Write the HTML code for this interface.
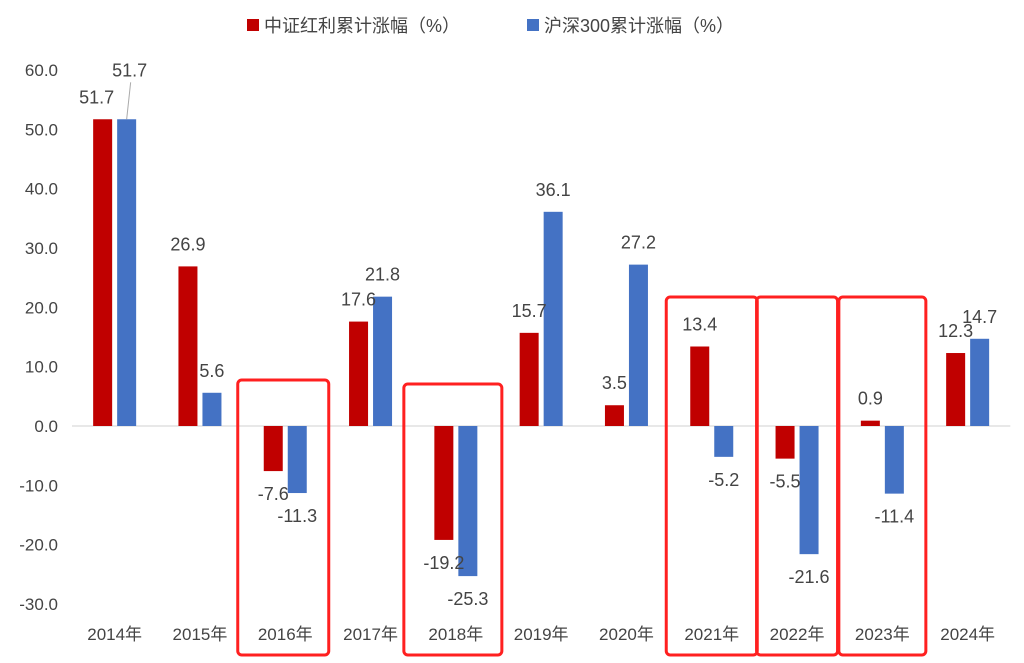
<!DOCTYPE html>
<html><head><meta charset="utf-8"><style>
html,body{margin:0;padding:0;background:#fff;}
svg text{font-family:"Liberation Sans","Noto Sans CJK SC",sans-serif;fill:#444;}
</style></head><body>
<svg id="chart" width="1024" height="658" viewBox="0 0 1024 658" xmlns="http://www.w3.org/2000/svg">
<g id="legend">
<rect x="247" y="19" width="12" height="12" fill="#c00000"/>
<text x="264" y="32" font-size="18">中证红利累计涨幅（%）</text>
<rect x="527" y="19" width="12" height="12" fill="#4472c4"/>
<text x="544" y="32" font-size="18">沪深300累计涨幅（%）</text>
</g>
<g id="yaxis"></g><g id="xaxis"></g><g id="bars"></g><g id="labels"></g><g id="boxes"></g>
</svg>
<script>
const categories=["2014年","2015年","2016年","2017年","2018年","2019年","2020年","2021年","2022年","2023年","2024年"];
const dividendValues=[51.7,26.9,-7.6,17.6,-19.2,15.7,3.5,13.4,-5.5,0.9,12.3];
const csi300Values=[51.7,5.6,-11.3,21.8,-25.3,36.1,27.2,-5.2,-21.6,-11.4,14.7];
const yTicks=[60,50,40,30,20,10,0,-10,-20,-30];
const highlighted=["2016年","2018年","2021年","2022年","2023年"];
const NS="http://www.w3.org/2000/svg";
const y0=426, pxPer=5.933;
function yScale(v){return y0-v*pxPer;}
const left=72, step=85.3;
function xCenter(i){return left+step*(i+0.5);}
function mk(tag,attrs,parent){const e=document.createElementNS(NS,tag);for(const k in attrs)e.setAttribute(k,attrs[k]);parent.appendChild(e);return e;}
const yg=document.getElementById('yaxis'),xg=document.getElementById('xaxis'),bg=document.getElementById('bars'),lg=document.getElementById('labels'),boxg=document.getElementById('boxes');
yTicks.forEach(t=>{
 const e=mk('text',{x:58,y:yScale(t)+6,'text-anchor':'end','font-size':17},yg);
 
 
 e.textContent=t.toFixed(1);
});
const ax=mk('line',{x1:left,x2:left+step*categories.length,y1:y0,y2:y0,stroke:'#d0d0d0','stroke-width':1},xg);


const bw=19;
categories.forEach((c,i)=>{
 const cx=xCenter(i);
 const t=mk('text',{x:cx,y:640,'text-anchor':'middle','font-size':17},xg);
 
 
 t.textContent=c;
 [[dividendValues[i],'#c00000',-12,'dividend'],[csi300Values[i],'#4472c4',12,'csi300']].forEach(([v,col,off,nm],k)=>{
  const bx=cx+off-bw/2, top=Math.min(yScale(v),y0), h=Math.abs(yScale(v)-y0);
  const r=mk('rect',{x:bx,y:top,width:bw,height:h,fill:col},bg);
  
  
  let lx=cx+off, ly=v>=0?yScale(v)-16:yScale(v)+29;
  if(i===0&&k===1){lx=cx+off+3;ly=yScale(v)-43;
   const ln=mk('line',{x1:cx+off,y1:yScale(v),x2:cx+off+4,y2:ly+6,stroke:'#aaa','stroke-width':1},lg);
   
   
  }
  if(i===0&&k===0){lx=cx+off-6;}
  const lt=mk('text',{x:lx,y:ly,'text-anchor':'middle','font-size':18,fill:'#333'},lg);
  
  
  lt.textContent=v.toFixed(1);
 });
});
const boxTops={"2016年":380,"2018年":384,"2021年":297,"2022年":297,"2023年":297};
const boxShift={"2016年":-2,"2018年":-3,"2021年":0,"2022年":0,"2023年":0};
highlighted.forEach(c=>{
 const i=categories.indexOf(c);
 const w=(c==="2022年")?81:(c==="2023年"?87:(c==="2018年"?98:91));
 const b=mk('rect',{x:xCenter(i)-w/2+boxShift[c],y:boxTops[c],width:w,height:655-boxTops[c],rx:4,fill:'none',stroke:'#ff2020','stroke-width':3},boxg);
 
 
});
</script>
</body></html>
